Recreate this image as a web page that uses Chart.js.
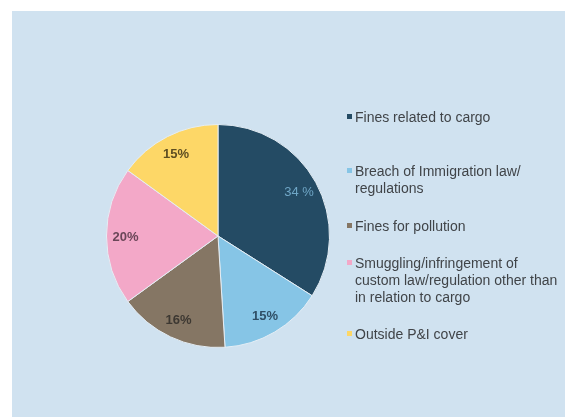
<!DOCTYPE html>
<html>
<head>
<meta charset="utf-8">
<script src="https://cdn.jsdelivr.net/npm/chart.js@4/dist/chart.umd.min.js"></script>
<style>
  html, body { margin: 0; padding: 0; background: #ffffff; }
  #wrap { position: relative; width: 565px; height: 417px; overflow: hidden; }
  #panel { position: absolute; left: 12px; top: 11px; right: 0; bottom: 0; background: #d0e2f0; }
  #c { position: absolute; left: 0; top: 0; }
  .lg { position: absolute; left: 355px; font-family: "Liberation Sans", Arial, sans-serif; font-size: 14px; line-height: 17px; color: #404448; white-space: nowrap; }
  .mk { position: absolute; left: -8px; top: 5px; width: 5px; height: 5px; }
</style>
</head>
<body>
<div id="wrap">
  <div id="panel"></div>
  <canvas id="c" width="565" height="417"></canvas>
</div>
<script>
const categories = [
  ["Fines related to cargo"],
  ["Breach of Immigration law/", "regulations"],
  ["Fines for pollution"],
  ["Smuggling/infringement of", "custom law/regulation other than", "in relation to cargo"],
  ["Outside P&I cover"]
];
const values = [34, 15, 16, 20, 15];
const valueLabels = ["34 %", "15%", "16%", "20%", "15%"];
const colors = ["#244b64", "#86c5e6", "#857664", "#f3a8c8", "#fdd767"];
const labelColors = ["#6fa6c6", "#2f4f66", "#3d3832", "#6a4658", "#5e4e22"];
const labelWeights = ["normal", "bold", "bold", "bold", "bold"];
const legendTops = [109, 163, 218, 255, 326];

const wrap = document.getElementById('wrap');
categories.forEach((lines, i) => {
  const d = document.createElement('div');
  d.className = 'lg';
  d.style.top = legendTops[i] + 'px';
  const m = document.createElement('div');
  m.className = 'mk';
  m.style.background = colors[i];
  d.appendChild(m);
  lines.forEach((ln, j) => {
    if (j > 0) d.appendChild(document.createElement('br'));
    d.appendChild(document.createTextNode(ln));
  });
  wrap.appendChild(d);
});

const sliceLabels = {
  id: 'sliceLabels',
  afterDatasetsDraw(chart) {
    const ctx = chart.ctx;
    const meta = chart.getDatasetMeta(0);
    ctx.save();
    ctx.textAlign = 'center';
    ctx.textBaseline = 'middle';
    meta.data.forEach((arc, i) => {
      const p = arc.getProps(['x', 'y', 'startAngle', 'endAngle', 'outerRadius'], true);
      const a = (p.startAngle + p.endAngle) / 2;
      const r = p.outerRadius * 0.83;
      ctx.font = labelWeights[i] + ' 13px "Liberation Sans", Arial, sans-serif';
      ctx.fillStyle = labelColors[i];
      ctx.fillText(valueLabels[i], p.x + Math.cos(a) * r, p.y + Math.sin(a) * r + 1);
    });
    ctx.restore();
  }
};

new Chart(document.getElementById('c'), {
  type: 'pie',
  data: {
    labels: categories.map(l => l.join(' ')),
    datasets: [{
      data: values,
      backgroundColor: colors,
      borderColor: '#e4edf4',
      borderWidth: 1
    }]
  },
  options: {
    responsive: false,
    animation: false,
    layout: { padding: { left: 106, right: 235, top: 124, bottom: 69 } },
    plugins: { legend: { display: false }, tooltip: { enabled: false } }
  },
  plugins: [sliceLabels]
});
</script>
</body>
</html>
